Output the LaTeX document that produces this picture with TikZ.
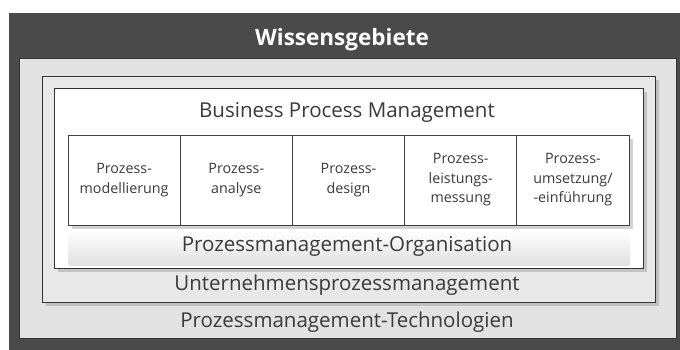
\documentclass[tikz,border=0pt]{standalone}
\usepackage{fontspec}
\setmainfont{Open Sans}
\usetikzlibrary{shadows}
\definecolor{darkbg}{HTML}{4A4A4A}
\definecolor{lightbg}{HTML}{E2E2E2}
\definecolor{midbg}{HTML}{E8E8E8}
\definecolor{txt}{HTML}{3A3A3A}
\begin{document}
\begin{tikzpicture}[x=1pt,y=-1pt]
        \tikzstyle{frame}=[draw=black!80,line width=1.2pt,inner sep=0pt,anchor=north west]
        \tikzstyle{shade}=[drop shadow={shadow xshift=3pt,shadow yshift=-3pt,opacity=0.35}]
        \tikzstyle{cell}=[draw=black!75,line width=0.8pt,fill=white,minimum width=112.2pt,minimum height=90pt,inner sep=0pt,font=\fontsize{14.3}{19.5}\selectfont,text=txt,align=center]
        \tikzstyle{title}=[text=txt,font=\fontsize{20.5}{24}\selectfont]
        \useasboundingbox (0,0) rectangle (680,350);
       \begin{scope}
         % outer frames
         \node [frame,fill=darkbg,draw=none,minimum width=672pt,minimum height=338pt] (wissen) at (8,12) {};
         \node [frame,fill=lightbg,minimum width=657pt,minimum height=280pt] (tech) at (19,58) {};
         \node [frame,fill=midbg,shade,minimum width=613pt,minimum height=226pt] (unt) at (42,76) {};
         \node [frame,fill=white,shade,minimum width=589pt,minimum height=180pt] (bpm) at (54,88) {};
         \node [frame,draw=none,top color=white,bottom color=black!12,minimum width=561pt,minimum height=36pt] (org) at (68,229) {};
         \node [frame,fill=white,shade,minimum width=561pt,minimum height=90pt] (row) at (68,135) {};
         % labels
         \node [text=white,font=\fontsize{22.5}{26}\selectfont\bfseries] (lwissen) at (342,40) {Wissensgebiete};
         \node [title] (lbpm) at (347,112) {Business Process Management};
         \node [title] (lorg) at (347,246) {Prozessmanagement-Organisation};
         \node [title] (lunt) at (347,285) {Unternehmensprozessmanagement};
         \node [title] (ltech) at (347,322) {Prozessmanagement-Technologien};
         % process cells
         \node [cell] (c1) at (124.1,180) {Prozess-\\modellierung};
         \node [cell] (c2) at (236.3,180) {Prozess-\\analyse};
         \node [cell] (c3) at (348.5,180) {Prozess-\\design};
         \node [cell] (c4) at (460.7,180) {Prozess-\\leistungs-\\messung};
         \node [cell] (c5) at (572.9,180) {Prozess-\\umsetzung/\\-einführung};
        \end{scope}
      \end{tikzpicture}
\end{document}
